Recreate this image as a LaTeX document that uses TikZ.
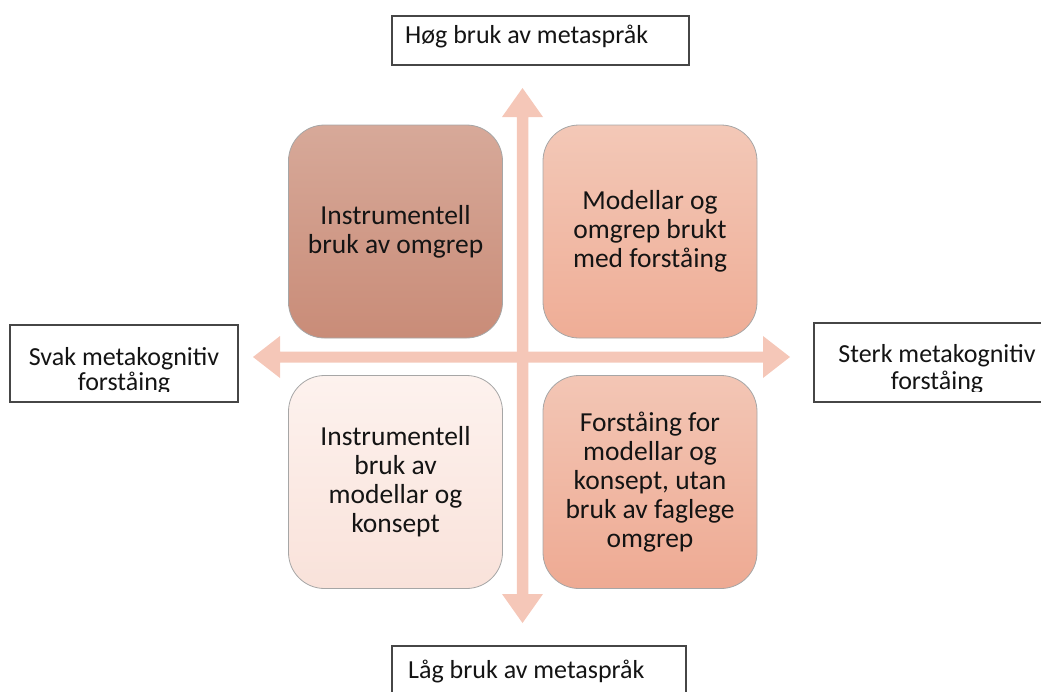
\documentclass[tikz,border=0pt]{standalone}
\usepackage{fontspec}
\setmainfont{Carlito}
\definecolor{arrowc}{RGB}{245,199,184}
\definecolor{tlA}{RGB}{215,169,153}
\definecolor{tlB}{RGB}{201,140,120}
\definecolor{trA}{RGB}{243,200,183}
\definecolor{trB}{RGB}{239,173,150}
\definecolor{blA}{RGB}{253,242,238}
\definecolor{blB}{RGB}{249,226,218}
\definecolor{brA}{RGB}{243,198,181}
\definecolor{brB}{RGB}{238,170,147}
\definecolor{txt}{RGB}{20,20,20}
\definecolor{edge}{RGB}{70,70,70}
\tikzset{
  quad/.style={draw=black!35, line width=0.8pt, rounded corners=36pt,
    minimum width=214pt, minimum height=213pt, inner sep=0pt,
    align=center, text=txt, font=\fontsize{27.5}{29}\selectfont},
  labelbox/.style={draw=edge, line width=1.2pt, fill=white},
  labeltext/.style={inner sep=0pt, text=txt, font=\fontsize{26}{26}\selectfont},
  arrowshape/.style={fill=arrowc, draw=none}
}
\begin{document}
\begin{tikzpicture}[x=1pt,y=-1pt]
\useasboundingbox (0,0) rectangle (1041,691);
\clip (0,0) rectangle (1041,691);
% arrows
\coordinate (vtop) at (522.5,88);
\coordinate (vbot) at (522.5,623);
\coordinate (hleft) at (253,357);
\coordinate (hright) at (790,357);
\fill[arrowshape] (vtop) -- (543,117) -- (528.25,117) -- (528.25,594) -- (543,594) -- (vbot)
  -- (502,594) -- (516.75,594) -- (516.75,117) -- (502,117) -- cycle;
\fill[arrowshape] (hleft) -- (280,336) -- (280,351.5) -- (763,351.5) -- (763,336) -- (hright)
  -- (763,378) -- (763,362.5) -- (280,362.5) -- (280,378) -- cycle;
% quadrants
\node[quad, top color=tlA, bottom color=tlB] (tl) at (395.5,231.5) {Instrumentell\\bruk av omgrep};
\node[quad, top color=trA, bottom color=trB] (tr) at (650,231.5) {Modellar og\\omgrep brukt\\med forståing};
\node[quad, top color=blA, bottom color=blB] (bl) at (395.5,482) {Instrumentell\\bruk av\\modellar og\\konsept};
\node[quad, top color=brA, bottom color=brB] (br) at (650,482) {Forståing for\\modellar og\\konsept, utan\\bruk av faglege\\omgrep};
% label boxes
\draw[labelbox] (392,16) rectangle (689,65);
\node[labeltext, anchor=base west] (top) at (405,43) {Høg bruk av metaspråk};
\draw[labelbox] (392,646) rectangle (686,710);
\node[labeltext, anchor=base west] (bottom) at (408,678) {Låg bruk av metaspråk};
\draw[labelbox] (10,325) rectangle (238,402);
\draw[labelbox] (814,323) rectangle (1060,402);
\begin{scope}
\clip (10,325) rectangle (238,391.5);
\node[labeltext, anchor=base] (left1) at (124,365) {Svak metakognitiv};
\node[labeltext, anchor=base] (left2) at (124,390) {forståing};
\end{scope}
\begin{scope}
\clip (814,323) rectangle (1041,391.5);
\node[labeltext, anchor=base] (right1) at (937,362) {Sterk metakognitiv};
\node[labeltext, anchor=base] (right2) at (937,389) {forståing};
\end{scope}
\end{tikzpicture}
\end{document}
